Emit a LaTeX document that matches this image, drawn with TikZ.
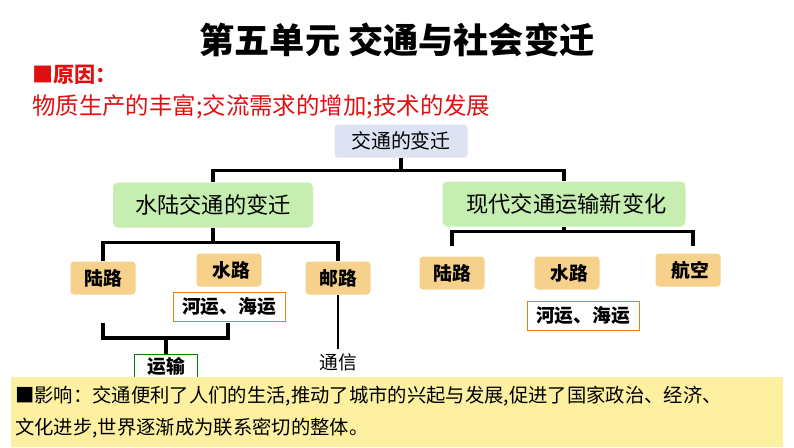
\documentclass[tikz,border=0pt]{standalone}
\usepackage{fontspec}
\setmainfont{Noto Sans CJK SC}
\usetikzlibrary{positioning}
\definecolor{boxblue}{HTML}{DDE3F2}
\definecolor{boxgreen}{HTML}{C6EEB0}
\definecolor{boxorange}{HTML}{F5D18C}
\definecolor{baryellow}{HTML}{FDF0A0}
\definecolor{textred}{HTML}{E01010}
\tikzset{
  topbox/.style={fill=boxblue,rounded corners=3pt,minimum width=133*0.03cm,minimum height=33*0.03cm,font=\fontsize{17}{20}\selectfont},
  midbox/.style={fill=boxgreen,rounded corners=4pt,minimum height=45*0.03cm,font=\fontsize{19}{22}\selectfont},
  leafbox/.style={fill=boxorange,rounded corners=3pt,minimum width=65*0.03cm,minimum height=33*0.03cm,font=\fontsize{16}{19}\selectfont\bfseries},
  notebox/.style={draw=orange!60!brown,fill=white,line width=0.5pt,minimum width=112*0.03cm,minimum height=29*0.03cm,inner sep=1pt,font=\fontsize{16}{19}\selectfont\bfseries},
  link/.style={line width=2.6pt}
}
\newcommand{\zweig}{\draw[link]}

\begin{document}
\begin{tikzpicture}[x=0.03cm,y=-0.03cm]
      \useasboundingbox (0,0) rectangle (794,447);
      % Überschrift
      \node(titel) at (397,40) {\fontsize{30}{34}\selectfont\bfseries 第五单元\ 交通与社会变迁};
      \node(grund) [anchor=west,text=textred] at (28,75) {\fontsize{18}{21}\selectfont\bfseries ■原因：};
      \node(grundtext) [anchor=west,text=textred] at (28,107) {\fontsize{20}{23}\selectfont 物质生产的丰富;交流需求的增加;技术的发展};

      % Ebene 0 und 1
      \node(wandel)  [topbox] at (401,141) {交通的变迁};
      \node(wasser)  [midbox,minimum width=200*0.03cm] at (213,205) {水陆交通的变迁};
      \node(modern)  [midbox,minimum width=243*0.03cm] at (564,204) {\ 现代交通运输新变化};

      \zweig (wandel.south) -- ++(0,13) -| (wasser.north);
      \zweig (wandel.south) -- ++(0,13) -| (modern.north);

      % Ebene 2 links
      \node(land1)   [leafbox] at (103,278) {陆路};
      \node(see1)    [leafbox] at (229,270) {\ 水路};
      \node(post)    [leafbox] at (338,278) {邮路};
      \node(fluss1)  [notebox] at (229,307) {河运、海运};
      \node(trans)   [draw=green!50!black,fill=white,line width=0.5pt,minimum width=63*0.03cm,minimum height=24*0.03cm,inner sep=1pt,font=\fontsize{16}{19}\selectfont\bfseries] at (166,366) {运输};
      \node(info)    at (338,362) {\fontsize{16}{19}\selectfont 通信};

      \zweig (wasser.south) -- ++(0,15) -| (land1.north);
      \zweig (wasser.south) -- ++(0,15) -| (post.north);
      \zweig (103,323) -- (103,338) -- (228,338) -- (228,323);
      \zweig (166,338) -- (trans.north);
      \draw[line width=1.6pt] (post.south) -- (info.north);

      % Ebene 2 rechts
      \node(land2)   [leafbox] at (452,273) {陆路};
      \node(see2)    [leafbox] at (567,273) {\ 水路};
      \node(luft)    [leafbox] at (688,270) {\ 航空};
      \node(fluss2)  [notebox] at (583,316) {河运、海运};

      \zweig (modern.south) -- ++(0,5) -| (452,246);
      \zweig (modern.south) -- ++(0,5) -| (693,246);

      % Wirkung
      \node(wirkung) [fill=baryellow,anchor=north west,minimum width=772*0.03cm,minimum height=70*0.03cm,text width=764*0.03cm,align=left,inner sep=3pt,font=\fontsize{16.5}{27}\selectfont] at (11,377)
        {■影响：交通便利了人们的生活,推动了城市的兴起与发展,促进了国家政治、经济、\\文化进步,世界逐渐成为联系密切的整体。};
\end{tikzpicture}
\end{document}
